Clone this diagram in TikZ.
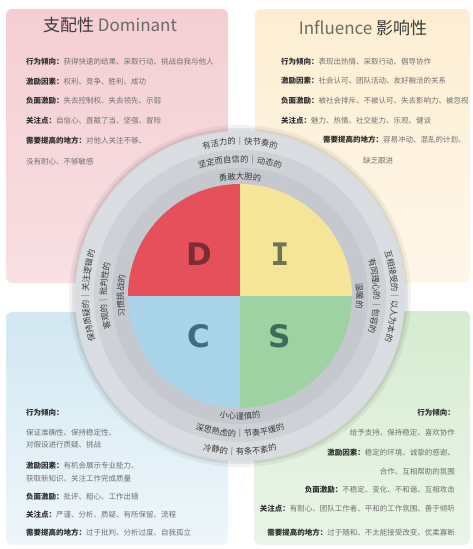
\documentclass[tikz,border=0pt]{standalone}
\usepackage{fontspec}
\setmainfont{Noto Sans CJK SC}
\newfontfamily\markfont{DejaVu Sans}
\newfontfamily\markmono{DejaVu Sans Mono}
\usepackage{tikz}
\usetikzlibrary{decorations.text}

\definecolor{pinkTop}{HTML}{F4CED3}
\definecolor{pinkBot}{HTML}{F8E0E3}
\definecolor{yellowTop}{HTML}{FDEED2}
\definecolor{yellowBot}{HTML}{FEF7E9}
\definecolor{blueTop}{HTML}{D2E8F2}
\definecolor{blueBot}{HTML}{EEF6FA}
\definecolor{greenTop}{HTML}{D6ECD1}
\definecolor{greenBot}{HTML}{EAF5E7}
\definecolor{ringOuter}{HTML}{D9DCE0}
\definecolor{ringMid}{HTML}{CED1D6}
\definecolor{ringInner}{HTML}{C5C8CE}
\definecolor{ringcol}{HTML}{3A3A3A}
\definecolor{dRed}{HTML}{E5505B}
\definecolor{iYellow}{HTML}{F4E599}
\definecolor{cBlue}{HTML}{A9D4E9}
\definecolor{sGreen}{HTML}{9FD2A3}
\definecolor{dMarkCol}{HTML}{7B2D35}
\definecolor{iMarkCol}{HTML}{6C7452}
\definecolor{cMarkCol}{HTML}{3F6C80}
\definecolor{sMarkCol}{HTML}{3D6B58}
\definecolor{headcol}{HTML}{3A3A3A}
\definecolor{headlight}{HTML}{6A6A6A}
\definecolor{keycol}{HTML}{2E2E2E}
\definecolor{bodycol}{HTML}{707070}

\newcommand{\keyterm}[1]{{\bfseries\color{keycol}#1}}
\newcommand{\ringfont}{\fontsize{8.3}{10}\selectfont}

\tikzset{
  quad/.style={rounded corners=6pt},
  body/.style={font=\fontsize{7.5}{9}\selectfont, text=bodycol, inner sep=0pt},
  heading/.style={font=\fontsize{17}{20}\selectfont, inner sep=0pt},
  letter/.style={font=\markfont\fontsize{31}{31}\selectfont\bfseries, inner sep=0pt},
  ringtext/.style={decorate, decoration={text along path, text align=center,
      text color=ringcol, text={|\ringfont|#1}}}
}

\begin{document}
\begin{tikzpicture}[x=1pt,y=1pt]
  \useasboundingbox (0,0) rectangle (472,-549);

  \shade[quad, top color=pinkTop, bottom color=pinkBot] (6,-9) rectangle (228,-283);
  \shade[quad, top color=yellowTop, bottom color=yellowBot] (255,-9) rectangle (470,-283);
  \shade[quad, top color=blueTop, bottom color=blueBot] (6,-312) rectangle (228,-545);
  \shade[quad, top color=greenTop, bottom color=greenBot] (254,-311) rectangle (470,-545);

  \node[heading] (dTitle) at (110,-25) {{\color{headcol}支配性} {\color{headlight}Dominant}};
  \node[heading] (iTitle) at (363,-28) {{\color{headlight}Influence} {\color{headcol}影响性}};

  \node[body, anchor=west] (d1) at (26,-62) {\keyterm{行为倾向：}获得快速的结果、采取行动、挑战自我与他人};
  \node[body, anchor=west] (d2) at (26,-82) {\keyterm{激励因素：}权利、竞争、胜利、成功};
  \node[body, anchor=west] (d3) at (26,-101) {\keyterm{负面激励：}失去控制权、失去领先、示弱};
  \node[body, anchor=west] (d4) at (26,-121) {\keyterm{关注点：}自信心、直截了当、坚强、冒险};
  \node[body, anchor=west] (d5) at (26,-141) {\keyterm{需要提高的地方：}对他人关注不够、};
  \node[body, anchor=west] (d6) at (26,-162) {没有耐心、不够敏感};

  \node[body, anchor=west] (i1) at (281,-62) {\keyterm{行为倾向：}表现出热情、采取行动、倡导协作};
  \node[body, anchor=west] (i2) at (281,-81) {\keyterm{激励因素：}社会认可、团队活动、友好融洽的关系};
  \node[body, anchor=west] (i3) at (281,-101) {\keyterm{负面激励：}被社会排斥、不被认可、失去影响力、被忽视};
  \node[body, anchor=west] (i4) at (281,-121) {\keyterm{关注点：}魅力、热情、社交能力、乐观、健谈};
  \node[body, anchor=west] (i5) at (323,-140) {\keyterm{需要提高的地方：}容易冲动、混乱的计划、};
  \node[body, anchor=west] (i6) at (363,-161) {缺乏跟进};

  \node[body, anchor=west] (c1) at (26,-413) {\keyterm{行为倾向：}};
  \node[body, anchor=west] (c2) at (26,-433) {保证准确性、保持稳定性、};
  \node[body, anchor=west] (c3) at (26,-445) {对假设进行质疑、挑战};
  \node[body, anchor=west] (c4) at (26,-466) {\keyterm{激励因素：}有机会展示专业能力、};
  \node[body, anchor=west] (c5) at (26,-479) {获取新知识、关注工作完成质量};
  \node[body, anchor=west] (c6) at (26,-497) {\keyterm{负面激励：}批评、粗心、工作出错};
  \node[body, anchor=west] (c7) at (26,-515) {\keyterm{关注点：}严谨、分析、质疑、有所保留、流程};
  \node[body, anchor=west] (c8) at (26,-533) {\keyterm{需要提高的地方：}过于批判、分析过度、自我孤立};

  \node[body, anchor=east] (s1) at (455,-413) {\keyterm{行为倾向：}};
  \node[body, anchor=east] (s2) at (455,-433) {给予支持、保持稳定、喜欢协作};
  \node[body, anchor=east] (s3) at (455,-453) {\keyterm{激励因素：}稳定的环境、诚挚的感谢、};
  \node[body, anchor=east] (s4) at (455,-472) {合作、互相帮助的氛围};
  \node[body, anchor=east] (s5) at (455,-490) {\keyterm{负面激励：}不稳定、变化、不和谐、互相攻击};
  \node[body, anchor=east] (s6) at (455,-509) {\keyterm{关注点：}有耐心、团队工作者、平和的工作氛围、善于倾听};
  \node[body, anchor=east] (s7) at (455,-533) {\keyterm{需要提高的地方：}过于随和、不太能接受改变、优柔寡断};

  \begin{scope}[shift={(240,-296)}]
    \fill[black, opacity=.05] (0,0) circle (171);
    \fill[black, opacity=.07] (0,0) circle (168);
    \fill[ringOuter] (0,0) circle (165);
    \fill[ringMid] (0,0) circle (146);
    \fill[ringInner] (0,0) circle (128);

    \fill[dRed] (0,0) -- (90:112) arc[start angle=90, end angle=180, radius=112] -- cycle;
    \fill[iYellow] (0,0) -- (0:112) arc[start angle=0, end angle=90, radius=112] -- cycle;
    \fill[cBlue] (0,0) -- (180:112) arc[start angle=180, end angle=270, radius=112] -- cycle;
    \fill[sGreen] (0,0) -- (270:112) arc[start angle=270, end angle=360, radius=112] -- cycle;

    \node[letter, text=dMarkCol] (dMark) at (-41,42) {D};
    \node[letter, font=\markmono\fontsize{31}{31}\selectfont\bfseries, text=iMarkCol] (iMark) at (40,42) {I};
    \node[letter, text=cMarkCol] (cMark) at (-41,-40) {C};
    \node[letter, text=sMarkCol] (sMark) at (40,-40) {S};

    \path[ringtext={有活力的｜快节奏的}] (150:151.5) arc[start angle=150, end angle=30, radius=151.5];
    \path[ringtext={坚定而自信的｜动态的}] (150:133.5) arc[start angle=150, end angle=30, radius=133.5];
    \path[ringtext={勇敢大胆的}] (150:116.5) arc[start angle=150, end angle=30, radius=116.5];

    \path[ringtext={保持质疑的｜关注逻辑的}] (240:151.5) arc[start angle=240, end angle=120, radius=151.5];
    \path[ringtext={客观的｜批判性的}] (240:133.5) arc[start angle=240, end angle=120, radius=133.5];
    \path[ringtext={习惯挑战的}] (240:116.5) arc[start angle=240, end angle=120, radius=116.5];

    \path[ringtext={互相接受的｜以人为本的}] (60:151.5) arc[start angle=60, end angle=-60, radius=151.5];
    \path[ringtext={有同理心的｜包容的}] (60:133.5) arc[start angle=60, end angle=-60, radius=133.5];
    \path[ringtext={温暖的}] (60:116.5) arc[start angle=60, end angle=-60, radius=116.5];

    \path[ringtext={冷静的｜有条不紊的}] (210:158.5) arc[start angle=210, end angle=330, radius=158.5];
    \path[ringtext={深思熟虑的｜节奏平缓的}] (210:140.5) arc[start angle=210, end angle=330, radius=140.5];
    \path[ringtext={小心谨慎的}] (210:123.5) arc[start angle=210, end angle=330, radius=123.5];
  \end{scope}
\end{tikzpicture}
\end{document}
